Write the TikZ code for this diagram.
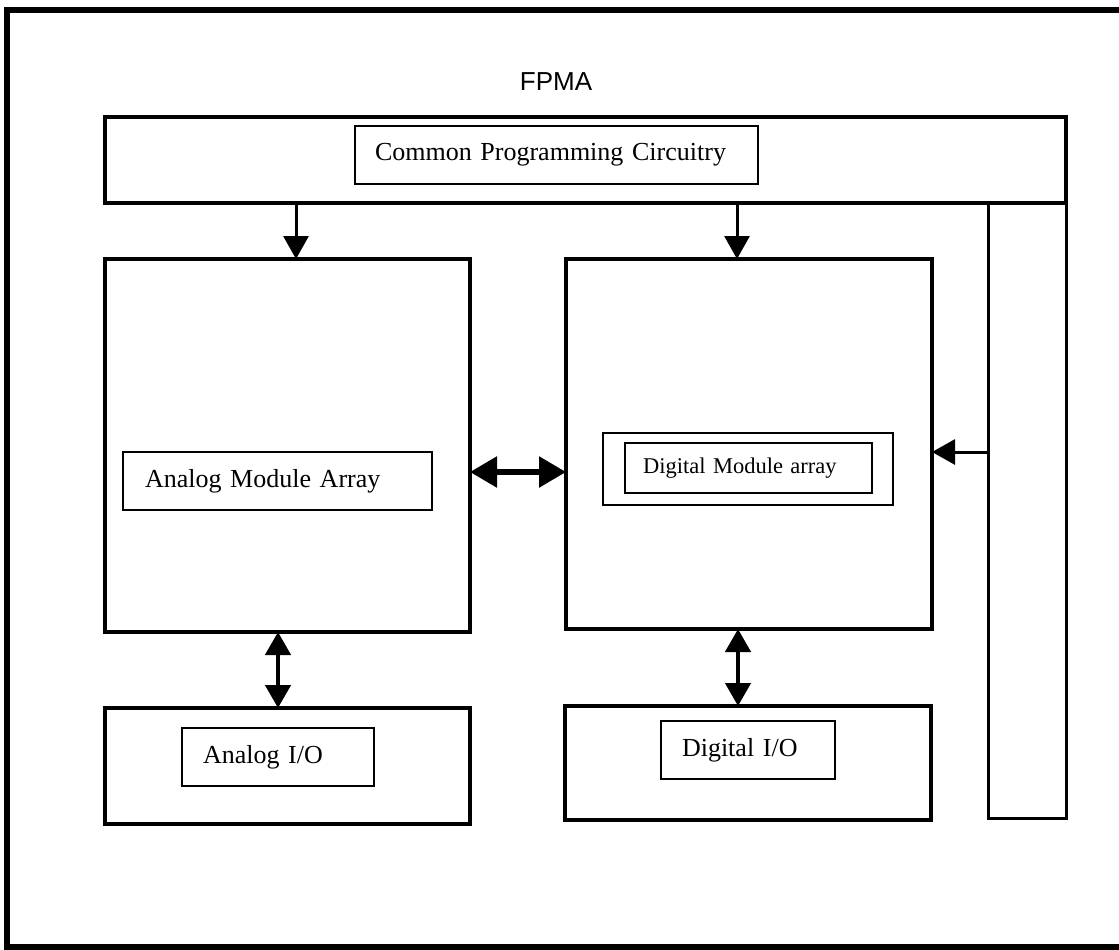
\documentclass[tikz,border=0pt]{standalone}
\usepackage{fontspec}
\setmainfont{Liberation Serif}
\newfontfamily\arialfont{Liberation Sans}
\usetikzlibrary{arrows.meta}
\begin{document}
\begin{tikzpicture}[x=1pt,y=-1pt,
  bigbox/.style={draw, line width=4pt, rectangle, inner sep=0pt, outer sep=0pt},
  barbox/.style={draw, line width=3pt, rectangle, inner sep=0pt, outer sep=0pt},
  thinbox/.style={draw, line width=2pt, rectangle, inner sep=0pt, outer sep=0pt},
  txtbox/.style={draw, line width=1.5pt, rectangle, inner ysep=0pt, outer sep=0pt, align=left, font=\fontsize{26}{30}\selectfont},
  onearrow/.style={line width=3pt, -{Triangle[length=23pt,width=25pt]}},
  twoarrowh/.style={line width=5.5pt, {Triangle[length=27pt,width=30pt]}-{Triangle[length=27pt,width=30pt]}},
  twoarrowv/.style={line width=4.5pt, {Triangle[length=23pt,width=25pt]}-{Triangle[length=23pt,width=25pt]}},
]
\useasboundingbox (0,0) rectangle (1119,950);
\fill[white] (0,0) rectangle (1119,950);
% outer frame (right side cut off)
\draw[line width=6.5pt] (1130,10) -- (7,10) -- (7,947) -- (1130,947);

\node[font=\arialfont\fontsize{26}{30}\selectfont] (title) at (556,82) {FPMA};

\node[barbox, minimum width=78, minimum height=616] (rbar) at (1027,510) {};
\node[bigbox, minimum width=961, minimum height=86] (common) at (585.5,160) {};
\node[txtbox, minimum height=58, inner xsep=20pt, text width=363pt] (cpc) at (556.5,155) {Common Programming Circuitry};

\node[bigbox, minimum width=365, minimum height=373] (analog) at (287.5,445.5) {};
\node[txtbox, minimum height=58, inner xsep=22pt, text width=265pt] (ama) at (277.5,481) {Analog Module Array};

\node[bigbox, minimum width=366, minimum height=370] (digital) at (749,444) {};
\node[thinbox, minimum width=290, minimum height=72] (dmouter) at (748,469) {};
\node[txtbox, minimum height=50, inner xsep=18pt, text width=211pt, font=\fontsize{22.5}{26}\selectfont] (dma) at (748.5,468) {Digital Module array};

\node[bigbox, minimum width=365, minimum height=116] (aio) at (287.5,766) {};
\node[txtbox, minimum height=58, inner xsep=21pt, text width=150pt] (aiotxt) at (278,757) {Analog I/O};

\node[bigbox, minimum width=366, minimum height=114] (dio) at (748,763) {};
\node[txtbox, minimum height=58, inner xsep=21pt, text width=132pt] (diotxt) at (748,750) {Digital I/O};

% connectors
\draw[onearrow] ([xshift=8.5pt]analog.north |- common.south) -- ([xshift=8.5pt]analog.north);
\draw[onearrow] ([xshift=-12pt]digital.north |- common.south) -- ([xshift=-12pt]digital.north);
\draw[twoarrowh] ([yshift=-26.5pt]analog.east) -- ([yshift=-26.5pt]analog.east -| digital.west);
\draw[twoarrowv] ([xshift=-9.5pt]analog.south) -- ([xshift=-9.5pt]analog.south |- aio.north);
\draw[twoarrowv] ([xshift=-11pt]digital.south) -- ([xshift=-11pt]digital.south |- dio.north);
\draw[onearrow] ([yshift=-8pt]digital.east -| rbar.west) -- ([yshift=-8pt]digital.east);
\end{tikzpicture}
\end{document}
